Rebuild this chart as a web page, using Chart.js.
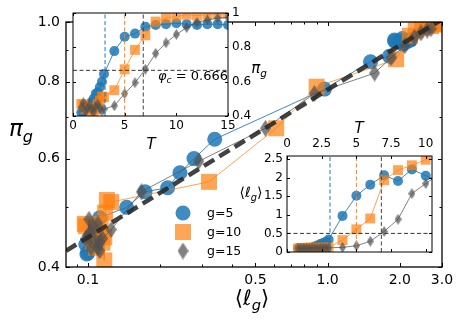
<!DOCTYPE html>
<html>
<head>
<meta charset="utf-8">
<script src="https://cdn.jsdelivr.net/npm/chart.js@4.4.1/dist/chart.umd.min.js"></script>
<style>
  body { margin: 0; background: #fff; }
  #wrap { position: relative; width: 463px; height: 325px; overflow: hidden; font-family: "DejaVu Sans", sans-serif; }
  canvas { position: absolute; left: 0; top: 0; }
  .lbl { position: absolute; transform: translate(-50%, -50%); white-space: nowrap; color: #000; font-style: italic; line-height: 1; }
  .lbl sub { font-size: 70%; vertical-align: -0.35em; }
  .up { font-style: normal; }
</style>
</head>
<body>
<div id="wrap">
  <canvas id="mainChart" width="463" height="325"></canvas>
  <canvas id="insetPi" width="463" height="325"></canvas>
  <canvas id="insetEll" width="463" height="325"></canvas>
  <div class="lbl" style="left:21px;top:131px;font-size:23px">π<sub>g</sub></div>
  <div class="lbl" style="left:252px;top:300px;font-size:21px"><span class="up">⟨</span>ℓ<sub>g</sub><span class="up">⟩</span></div>
  <div class="lbl" style="left:151px;top:144px;font-size:15px">T</div>
  <div class="lbl" style="left:259px;top:70px;font-size:15px">π<sub>g</sub></div>
  <div class="lbl" style="left:193px;top:77px;font-size:13px">φ<sub>c</sub><span class="up"> = 0.666</span></div>
  <div class="lbl" style="left:359px;top:128px;font-size:15px">T</div>
  <div class="lbl" style="left:251px;top:194px;font-size:14px"><span class="up">⟨</span>ℓ<sub>g</sub><span class="up">⟩</span></div>
</div>
<script>
// temperatures, same for all three g values
const T = [0.8, 1.0, 1.2, 1.4, 1.6, 1.8, 2.0, 2.2, 2.4, 2.6, 2.8, 3.0, 4, 5, 6, 7, 8, 9, 10, 11, 12, 13, 14, 15];

const piG5 = [0.42, 0.422, 0.435, 0.45, 0.465, 0.481, 0.50, 0.53, 0.538, 0.569, 0.60, 0.645,
    0.778, 0.862, 0.88, 0.92, 0.93, 0.935, 0.94, 0.935, 0.93, 0.935, 0.935, 0.93];
const ellG5 = [0.099, 0.100, 0.098, 0.103, 0.108, 0.112, 0.145, 0.173, 0.215, 0.242, 0.277, 0.338,
    0.97, 1.51, 1.81, 2.06, 1.91, 2.22, 2.05, 1.9, 2.0, 2.1, 2.2, 2.15];

const piG10 = [0.47, 0.466, 0.44, 0.455, 0.447, 0.41, 0.43, 0.438, 0.47, 0.49, 0.514, 0.51,
    0.55, 0.672, 0.785, 0.87, 0.95, 0.97, 0.98, 0.99, 0.985, 0.99, 0.995, 0.995];
const ellG10 = [0.097, 0.098, 0.105, 0.112, 0.117, 0.117, 0.108, 0.115, 0.113, 0.118, 0.12, 0.125,
    0.32, 0.61, 0.90, 1.93, 2.2, 2.33, 2.48, 2.6, 2.7, 2.8, 2.9, 3.0];

const piG15 = [0.45, 0.478, 0.43, 0.445, 0.465, 0.44, 0.425, 0.455, 0.47, 0.445, 0.43, 0.44,
    0.46, 0.53, 0.594, 0.672, 0.765, 0.826, 0.875, 0.915, 0.945, 0.96, 0.97, 0.975];
const ellG15 = [0.1, 0.101, 0.103, 0.098, 0.105, 0.108, 0.112, 0.103, 0.11, 0.115, 0.11, 0.112,
    0.125, 0.167, 0.29, 0.55, 0.88, 1.57, 1.84, 2.1, 2.3, 2.45, 2.6, 2.7];

// power-law guide line (two ends on log-log)
const fitEll = [0.081, 3.0];
const fitPi = [0.425, 1.01];

// critical temperatures and thresholds
const criticalT = [3.1, 5.0, 6.8];
const phiC = 0.666;
const ellC = 0.5;

const seriesLabels = ['g=5', 'g=10', 'g=15'];

// ticks
const mainXTicks = [0.1, 0.5, 1.0, 2.0, 3.0];
const mainXLabels = ['0.1', '0.5', '1.0', '2.0', '3.0'];
const mainXMinor = [0.09, 0.2, 0.3, 0.4, 0.6, 0.7, 0.8, 0.9];
const mainYTicks = [0.4, 0.6, 0.8, 1.0];
const mainYLabels = ['0.4', '0.6', '0.8', '1.0'];
const mainYMinor = [0.5, 0.7, 0.9];
const piTTicks = [0, 5, 10, 15];
const piYTicks = [0.4, 0.6, 0.8, 1.0];
const piYLabels = ['0.4', '0.6', '0.8', '1'];
const ellTTicks = [0, 2.5, 5, 7.5, 10];
const ellTLabels = ['0', '2.5', '5', '7.5', '10'];
const ellYTicks = [0, 0.5, 1, 1.5, 2, 2.5];
const ellYLabels = ['0', '0.5', '1', '1.5', '2', '2.5'];

const blue = 'rgba(31,119,180,0.85)';
const orange = 'rgba(255,127,14,0.7)';
const gray = 'rgba(80,80,80,0.72)';
const FONT = 'DejaVu Sans';

function thinDiamond(w, h, color) {
    let c = document.createElement('canvas');
    c.width = w;
    c.height = h;
    let g = c.getContext('2d');
    g.fillStyle = color;
    g.beginPath();
    g.moveTo(w / 2, 0);
    g.lineTo(w, h / 2);
    g.lineTo(w / 2, h);
    g.lineTo(0, h / 2);
    g.closePath();
    g.fill();
    return c;
}

const diamondMain = thinDiamond(11, 17, gray);
const diamondSmall = thinDiamond(7, 11, gray);

function pts(xs, ys) {
    return xs.map((x, i) => ({ x: x, y: ys[i] }));
}

function vline(x, y0, y1) {
    return [{ x: x, y: y0 }, { x: x, y: y1 }];
}

// inward ticks + frame + white face
const frameTicks = {
    id: 'frameTicks',
    beforeDraw(chart, args, opts) {
        const a = chart.chartArea;
        const ctx = chart.ctx;
        ctx.save();
        ctx.fillStyle = '#fff';
        ctx.fillRect(a.left, a.top, a.right - a.left, a.bottom - a.top);
        ctx.restore();
    },
    afterDraw(chart, args, opts) {
        const a = chart.chartArea;
        const ctx = chart.ctx;
        ctx.save();
        ctx.strokeStyle = '#000';
        ctx.lineWidth = 1;
        ctx.beginPath();
        for (let t of opts.x) {
            let px = Math.round(chart.scales.x.getPixelForValue(t[0])) + 0.5;
            ctx.moveTo(px, a.bottom); ctx.lineTo(px, a.bottom - t[1]);
            ctx.moveTo(px, a.top); ctx.lineTo(px, a.top + t[1]);
        }
        for (let t of opts.y) {
            let py = Math.round(chart.scales.y.getPixelForValue(t[0])) + 0.5;
            ctx.moveTo(a.left, py); ctx.lineTo(a.left + t[1], py);
            ctx.moveTo(a.right, py); ctx.lineTo(a.right - t[1], py);
        }
        ctx.stroke();
        ctx.lineWidth = opts.frame;
        ctx.strokeRect(a.left, a.top, a.right - a.left, a.bottom - a.top);
        ctx.restore();
    }
};

// legend inside the main axes
const innerLegend = {
    id: 'innerLegend',
    afterDatasetsDraw(chart) {
        const ctx = chart.ctx;
        ctx.save();
        ctx.font = '12.5px ' + FONT;
        ctx.textBaseline = 'middle';
        let x = 183, y0 = 213, dy = 19;
        for (let i = 0; i < seriesLabels.length; i++) {
            let y = y0 + i * dy;
            if (i === 0) {
                ctx.fillStyle = blue;
                ctx.beginPath();
                ctx.arc(x, y, 7.5, 0, Math.PI * 2);
                ctx.fill();
            } else if (i === 1) {
                ctx.fillStyle = orange;
                ctx.fillRect(x - 8, y - 8, 16, 16);
            } else {
                ctx.drawImage(diamondMain, x - diamondMain.width / 2, y - diamondMain.height / 2);
            }
            ctx.fillStyle = '#000';
            ctx.fillText(seriesLabels[i], 207, y + 1);
        }
        ctx.restore();
    }
};

// box = fixed thickness of the axis band (labels get clipped to it)
function axis(type, pos, min, max, ticks, labels, pad, size, box) {
    let horiz = pos === 'top' || pos === 'bottom';
    return {
        type: type,
        position: pos,
        min: min,
        max: max,
        grid: { display: false, drawTicks: false },
        border: { display: false },
        afterFit: (s) => {
            if (horiz) { s.height = box; } else { s.width = box; }
        },
        afterBuildTicks: (s) => {
            s.ticks = ticks.map(v => ({ value: v }));
        },
        ticks: {
            autoSkip: false,
            maxRotation: 0,
            minRotation: 0,
            padding: pad,
            color: '#000',
            font: { family: FONT, size: size },
            callback: (v, i) => labels[i],
        },
    };
}

function lineSet(data, color, style, radius, order) {
    return {
        data: data,
        showLine: true,
        borderColor: color,
        borderWidth: 1,
        backgroundColor: color,
        pointBackgroundColor: color,
        pointBorderWidth: 0,
        pointStyle: style,
        pointRadius: radius,
        order: order,
        clip: 0,
    };
}

function dashSet(data, color, width, dash, order) {
    return {
        data: data,
        showLine: true,
        borderColor: color,
        borderWidth: width,
        borderDash: dash,
        pointRadius: 0,
        order: order,
        clip: 0,
    };
}

function baseOptions(pad, scales, ticksCfg) {
    return {
        responsive: false,
        animation: false,
        events: [],
        layout: { padding: pad },
        plugins: {
            legend: { display: false },
            tooltip: { enabled: false },
            frameTicks: ticksCfg,
        },
        scales: scales,
    };
}

// main plot: pi_g vs <l_g>
new Chart(document.getElementById('mainChart').getContext('2d'), {
    type: 'scatter',
    data: {
        datasets: [
            dashSet(pts(fitEll, fitPi), 'rgba(40,40,40,0.88)', 4.5, [12, 6], 0),
            lineSet(pts(ellG15, piG15), gray, diamondMain, 7.5, 1),
            lineSet(pts(ellG10, piG10), orange, 'rect', 11.3, 2),
            lineSet(pts(ellG5, piG5), blue, 'circle', 7.5, 3),
        ]
    },
    options: baseOptions(
        { left: 0, right: 21, top: 22, bottom: 0 },
        {
            x: axis('logarithmic', 'bottom', 0.081, 3.0, mainXTicks, mainXLabels, 5, 14, 58),
            y: axis('logarithmic', 'left', 0.4, 1.0, mainYTicks, mainYLabels, 6, 14, 66),
        },
        {
            x: mainXTicks.map(v => [v, 4]).concat(mainXMinor.map(v => [v, 2.5])),
            y: mainYTicks.map(v => [v, 4]).concat(mainYMinor.map(v => [v, 2.5])),
            frame: 1.3,
        }
    ),
    plugins: [frameTicks, innerLegend],
});

// top-left inset: pi_g vs T
new Chart(document.getElementById('insetPi').getContext('2d'), {
    type: 'scatter',
    data: {
        datasets: [
            dashSet([{ x: 0, y: phiC }, { x: 15, y: phiC }], '#333', 1, [4, 2.5], 0),
            dashSet(vline(criticalT[0], 0.4, 1.0), 'rgb(31,119,180)', 1, [4, 2.5], 0),
            dashSet(vline(criticalT[1], 0.4, 1.0), 'rgb(255,127,14)', 1, [4, 2.5], 0),
            dashSet(vline(criticalT[2], 0.4, 1.0), '#444', 1, [4, 2.5], 0),
            lineSet(pts(T, piG15), gray, diamondSmall, 5, 1),
            lineSet(pts(T, piG10), orange, 'rect', 7, 2),
            lineSet(pts(T, piG5), blue, 'circle', 5, 3),
        ]
    },
    options: baseOptions(
        { left: 73, right: 235 - 34, top: 13, bottom: 209 - 22 },
        {
            x: axis('linear', 'bottom', 0, 15, piTTicks, piTTicks.map(String), 3, 12, 22),
            y: axis('linear', 'right', 0.4, 1.0, piYTicks, piYLabels, 4, 12, 34),
        },
        {
            x: piTTicks.map(v => [v, 3]),
            y: piYTicks.map(v => [v, 3]),
            frame: 1,
        }
    ),
    plugins: [frameTicks],
});

// bottom-right inset: <l_g> vs T
new Chart(document.getElementById('insetEll').getContext('2d'), {
    type: 'scatter',
    data: {
        datasets: [
            dashSet([{ x: 0, y: ellC }, { x: 10.45, y: ellC }], '#333', 1, [4, 2.5], 0),
            dashSet(vline(criticalT[0], 0, 2.58), 'rgb(31,119,180)', 1, [4, 2.5], 0),
            dashSet(vline(criticalT[1], 0, 2.58), 'rgb(255,127,14)', 1, [4, 2.5], 0),
            dashSet(vline(criticalT[2], 0, 2.58), '#444', 1, [4, 2.5], 0),
            lineSet(pts(T, ellG15), gray, diamondSmall, 5, 1),
            lineSet(pts(T, ellG10), orange, 'rect', 7, 2),
            lineSet(pts(T, ellG5), blue, 'circle', 5, 3),
        ]
    },
    options: baseOptions(
        { left: 287 - 34, right: 31, top: 156 - 22, bottom: 73 },
        {
            x: axis('linear', 'top', 0, 10.45, ellTTicks, ellTLabels, 5, 12, 22),
            y: axis('linear', 'left', 0, 2.58, ellYTicks, ellYLabels, 4, 12, 34),
        },
        {
            x: ellTTicks.map(v => [v, 3]),
            y: ellYTicks.map(v => [v, 3]),
            frame: 1,
        }
    ),
    plugins: [frameTicks],
});
</script>
</body>
</html>
